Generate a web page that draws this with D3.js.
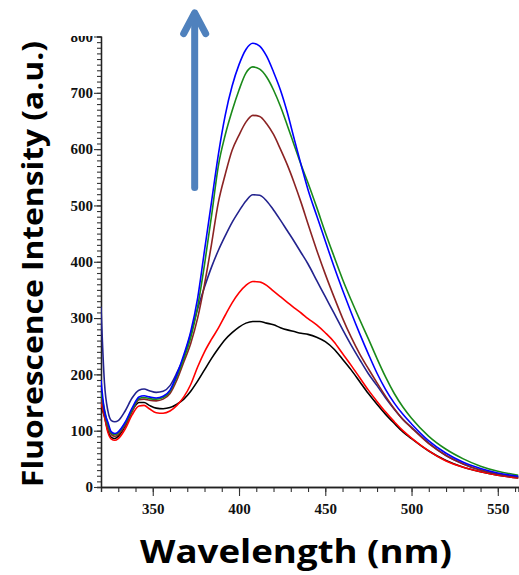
<!DOCTYPE html>
<html>
<head>
<meta charset="utf-8">
<script src="https://d3js.org/d3.v7.min.js"></script>
<style>
  body { margin: 0; background: #fff; }
  svg { display: block; }
</style>
</head>
<body>
<svg id="chart"></svg>
<script>
var dimensions = {
    width: 519,
    height: 575,
    margin: { top: 36.5, bottom: 88, right: 0.5, left: 101 }
}

// wavelengths (nm) shared by all spectra
var wavelength = [320, 322, 324, 326, 328, 330, 334, 338, 342, 345, 348, 352, 356, 360,
  364, 368, 372, 376, 380, 384, 388, 392, 396, 400, 404, 408, 412, 416, 420, 424, 428, 432,
  436, 440, 445, 450, 455, 460, 465, 470, 475, 480, 485, 490, 495, 500, 510, 520, 530, 540, 550, 562];

var blackSeries = [145, 125, 100, 88, 86, 90, 108, 135, 150, 150, 145, 140, 139, 141,
  147, 156, 170, 188, 208, 228, 246, 262, 274, 284, 291, 294, 294, 291, 288, 283, 279, 276,
  273, 271, 266, 258, 245, 227, 208, 187, 166, 147, 129, 113, 98, 86, 64, 47, 35, 27, 21, 16];
var redSeries = [150, 125, 97, 85, 83, 86, 103, 128, 144, 145, 139, 132, 131, 135,
  145, 160, 182, 213, 240, 262, 282, 305, 327, 345, 358, 365, 364, 358, 348, 338, 328, 318,
  309, 299, 288, 274, 258, 237, 216, 194, 172, 152, 133, 116, 100, 87, 64, 46, 35, 27, 21, 16];
var navySeries = [320, 185, 135, 118, 116, 118, 135, 158, 172, 174, 171, 168, 170, 180,
  203, 231, 272, 316, 355, 390, 420, 446, 470, 490, 508, 519, 518, 508, 492, 474, 455, 436,
  416, 396, 367, 338, 309, 280, 252, 226, 201, 180, 158, 138, 120, 106, 78, 56, 41, 30, 23, 18];
var brownSeries = [158, 130, 105, 93, 90, 93, 110, 134, 155, 156, 154, 153, 156, 166,
  190, 222, 255, 300, 360, 430, 505, 555, 598, 625, 648, 660, 658, 645, 626, 600, 572, 540,
  505, 467, 421, 378, 338, 300, 266, 236, 210, 185, 161, 139, 120, 105, 77, 56, 41, 30, 23, 18];
var greenSeries = [168, 138, 110, 96, 93, 96, 113, 137, 157, 159, 157, 156, 159, 170,
  196, 228, 265, 320, 395, 480, 570, 625, 668, 705, 735, 746, 742, 728, 705, 676, 642, 607,
  572, 540, 497, 452, 410, 369, 332, 297, 263, 228, 195, 166, 142, 122, 90, 67, 50, 37, 28, 21];
var blueSeries = [190, 135, 115, 98, 95, 98, 115, 140, 160, 162, 160, 158, 161, 172,
  200, 235, 276, 335, 420, 505, 590, 660, 712, 750, 777, 788, 783, 765, 737, 705, 665, 618,
  572, 528, 482, 437, 392, 350, 310, 272, 236, 202, 173, 149, 129, 112, 82, 60, 44, 33, 25, 19];

var seriesColors = ["#000000", "#ff0000", "#23238e", "#8b2323", "#1a8a1a", "#0000ff"];
var xTicks = [350, 400, 450, 500, 550];
var yTicks = [0, 100, 200, 300, 400, 500, 600, 700, 800];

var allSeries = [blackSeries, redSeries, navySeries, brownSeries, greenSeries, blueSeries];

var svg = d3.select("#chart")
    .attr("width", dimensions.width)
    .attr("height", dimensions.height)

var xScale = d3.scaleLinear()
    .domain([320, 562])
    .range([dimensions.margin.left, dimensions.width - dimensions.margin.right])
var yScale = d3.scaleLinear()
    .domain([0, 800])
    .range([dimensions.height - dimensions.margin.bottom, dimensions.margin.top])

// the figure is cropped through the 800 label
svg.append("clipPath").attr("id", "crop")
    .append("rect")
    .attr("x", -200).attr("y", 36)
    .attr("width", 400).attr("height", dimensions.height)

var axisFont = "'Liberation Serif', 'Times New Roman', serif";

// minor ticks
var xMinor = svg.append("g")
    .attr("transform", `translate(0,${yScale(0)})`)
    .call(d3.axisBottom(xScale).tickValues(d3.range(320, 561, 10)).tickSize(5).tickFormat(""))
var yMinor = svg.append("g")
    .attr("clip-path", "url(#crop)")
    .attr("transform", `translate(${xScale(320)},0)`)
    .call(d3.axisLeft(yScale).tickValues(d3.range(0, 801, 10)).tickSize(4).tickFormat(""))

var xAxis = svg.append("g")
    .attr("transform", `translate(0,${yScale(0)})`)
    .call(d3.axisBottom(xScale).tickValues(xTicks).tickSize(9).tickPadding(7).tickSizeOuter(0))
var yAxis = svg.append("g")
    .attr("clip-path", "url(#crop)")
    .attr("transform", `translate(${xScale(320)},0)`)
    .call(d3.axisLeft(yScale).tickValues(yTicks).tickSize(7).tickPadding(1).tickSizeOuter(0))

svg.selectAll(".domain").attr("stroke", "#222").attr("stroke-width", 1.3)
svg.selectAll(".tick line").attr("stroke", "#333").attr("stroke-width", 1.1)
svg.selectAll(".tick text")
    .style("font-family", axisFont)
    .style("font-weight", "bold")
    .style("font-size", "15px")
    .attr("fill", "#111")

var line = d3.line()
    .x((d, i) => xScale(wavelength[i]))
    .y(d => yScale(d))
    .curve(d3.curveMonotoneX)

svg.append("clipPath").attr("id", "plot")
    .append("rect")
    .attr("x", xScale(320)).attr("y", 0)
    .attr("width", xScale(562) - xScale(320)).attr("height", yScale(0))

svg.append("g")
    .attr("clip-path", "url(#plot)")
    .selectAll(".spectrum")
    .data(allSeries)
    .enter()
    .append("path")
    .attr("class", "spectrum")
    .attr("d", d => line(d))
    .attr("fill", "none")
    .attr("stroke", (d, i) => seriesColors[i])
    .attr("stroke-width", 1.6)

// arrow showing increasing intensity
var arrowX = xScale(374.3);
var arrow = svg.append("g")
    .attr("stroke", "#4f81bd")
    .attr("stroke-width", 7)
    .attr("stroke-linecap", "round")
    .attr("stroke-linejoin", "round")
    .attr("fill", "none")
arrow.append("line")
    .attr("x1", arrowX).attr("x2", arrowX)
    .attr("y1", yScale(532)).attr("y2", yScale(838))
arrow.append("polyline")
    .attr("points", [[arrowX - 11, yScale(805)], [arrowX, yScale(842)], [arrowX + 11, yScale(805)]].join(" "))

svg.append("text")
    .attr("transform", `translate(43,${(yScale(0) + 41) / 2}) rotate(-90)`)
    .attr("text-anchor", "middle")
    .attr("textLength", 446)
    .attr("lengthAdjust", "spacingAndGlyphs")
    .style("font-family", "'Open Sans', sans-serif")
    .style("font-weight", "bold")
    .style("font-size", "29px")
    .text("Fluorescence Intensity (a.u.)")

svg.append("text")
    .attr("x", 296)
    .attr("y", 563)
    .attr("text-anchor", "middle")
    .attr("textLength", 312)
    .attr("lengthAdjust", "spacingAndGlyphs")
    .style("font-family", "'Open Sans', sans-serif")
    .style("font-weight", "bold")
    .style("font-size", "32px")
    .text("Wavelength (nm)")
</script>
</body>
</html>
